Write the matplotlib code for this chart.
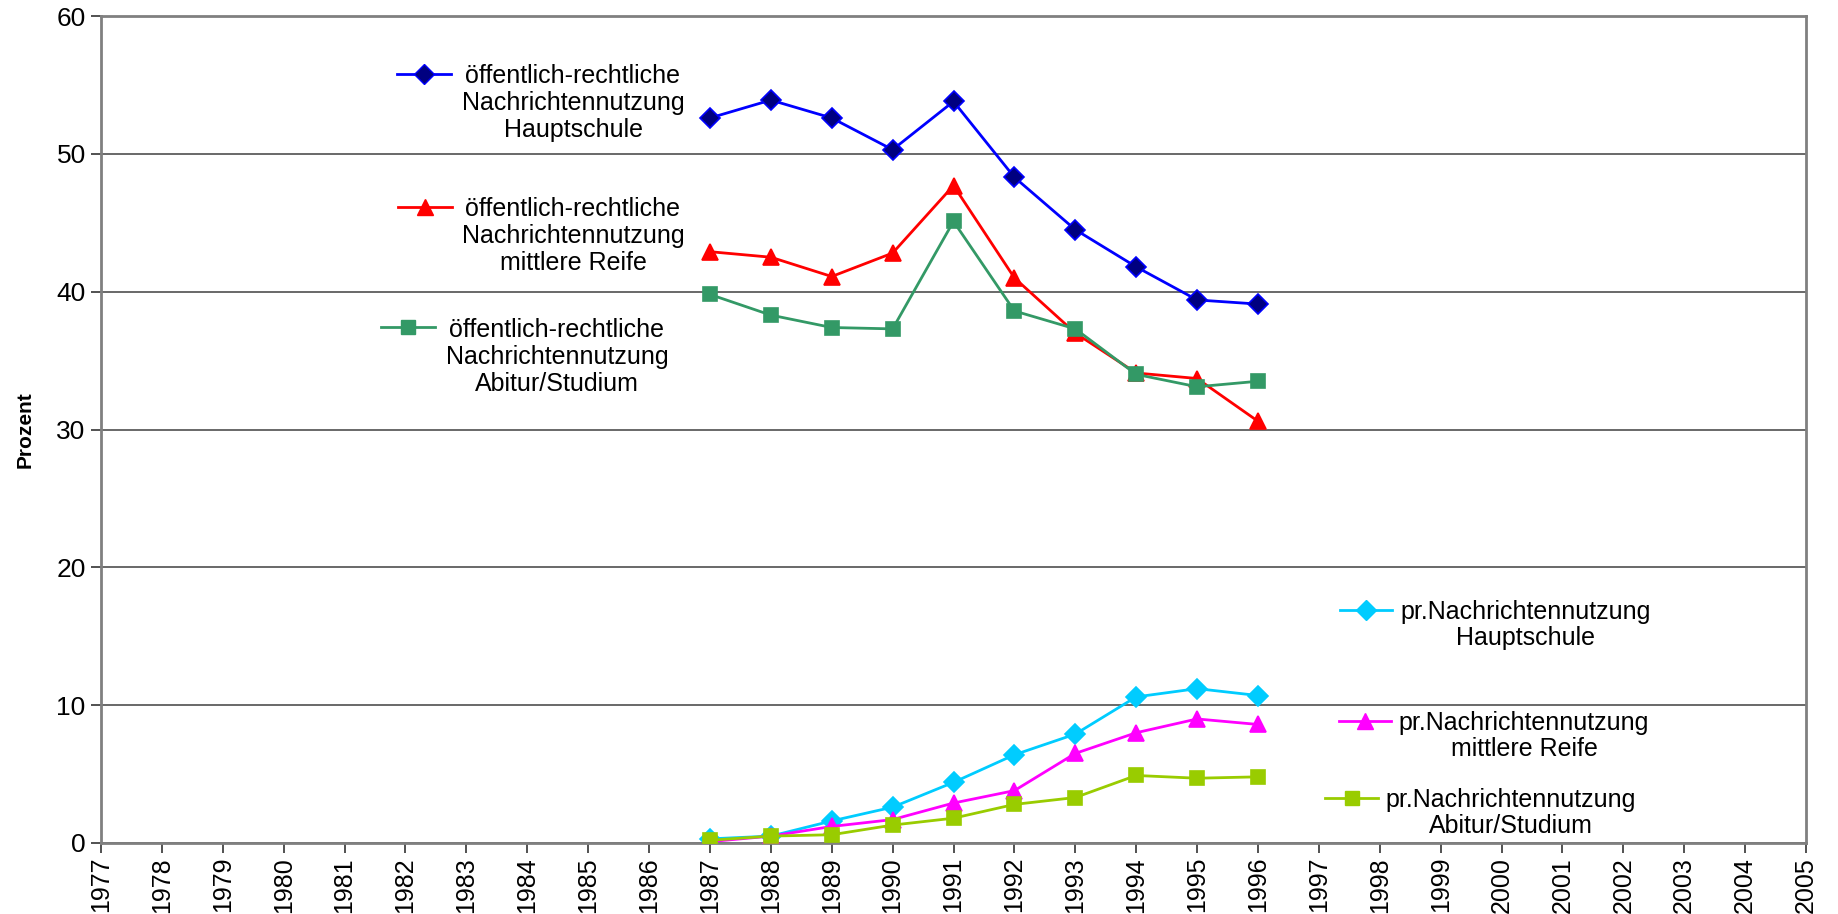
import matplotlib
matplotlib.use("Agg")
import matplotlib.pyplot as plt
from matplotlib.lines import Line2D

plt.rcParams['font.family'] = ['Liberation Sans', 'DejaVu Sans']

years = list(range(1987, 1997))
year_ticks = list(range(1977, 2006))

oer_hauptschule = [52.6, 53.9, 52.6, 50.3, 53.8, 48.3, 44.5, 41.8, 39.4, 39.1]
oer_mittlere    = [42.9, 42.5, 41.1, 42.8, 47.7, 41.0, 37.0, 34.1, 33.7, 30.6]
oer_abitur      = [39.8, 38.3, 37.4, 37.3, 45.1, 38.6, 37.3, 34.0, 33.1, 33.5]
pr_hauptschule  = [0.3, 0.5, 1.6, 2.6, 4.4, 6.4, 7.9, 10.6, 11.2, 10.7]
pr_mittlere     = [0.1, 0.5, 1.2, 1.7, 2.9, 3.8, 6.5, 8.0, 9.0, 8.6]
pr_abitur       = [0.2, 0.5, 0.6, 1.3, 1.8, 2.8, 3.3, 4.9, 4.7, 4.8]

labels = [
    "öffentlich-rechtliche\nNachrichtennutzung\nHauptschule",
    "öffentlich-rechtliche\nNachrichtennutzung\nmittlere Reife",
    "öffentlich-rechtliche\nNachrichtennutzung\nAbitur/Studium",
    "pr.Nachrichtennutzung\nHauptschule",
    "pr.Nachrichtennutzung\nmittlere Reife",
    "pr.Nachrichtennutzung\nAbitur/Studium",
]
series = [oer_hauptschule, oer_mittlere, oer_abitur,
          pr_hauptschule, pr_mittlere, pr_abitur]

# (line colour, marker, face colour, marker size)
styles = [
    ("#0000FF", "D", "#000080", 10.5),
    ("#FF0000", "^", "#FF0000", 11.5),
    ("#339966", "s", "#339966", 9.5),
    ("#00CCFF", "D", "#00CCFF", 10.5),
    ("#FF00FF", "^", "#FF00FF", 11.5),
    ("#99CC00", "s", "#99CC00", 9.5),
]

# legend key positions in figure pixels: handle left, handle right, y, text centre x, text centre y
W, H = 1838, 914
legend_pos = [
    (397, 451, 74, 573, 103),
    (398, 452, 207, 573, 236),
    (381, 435, 327, 557, 357),
    (1340, 1392, 610, 1526, 625),
    (1339, 1391, 721, 1524, 736),
    (1325, 1378, 798, 1511, 813),
]

fig = plt.figure(figsize=(W / 100, H / 100), dpi=100)
ax = fig.add_axes([101 / W, 1 - 843 / H, (1806 - 101) / W, (843 - 16) / H])

for vals, (col, mk, fc, ms) in zip(series, styles):
    ax.plot(years, vals, color=col, lw=2, marker=mk, markersize=ms,
            markerfacecolor=fc, markeredgecolor=col if mk == "D" else fc,
            markeredgewidth=1.2, zorder=3)

ax.set_xlim(1977, 2005)
ax.set_ylim(0, 60)
ax.set_yticks(range(0, 61, 10))
ax.set_xticks(year_ticks)
ax.set_xticklabels([str(y) for y in year_ticks], rotation=90, fontsize=18)
ax.tick_params(axis='y', labelsize=19, length=7, width=1.2, color='#333333', pad=4)
ax.tick_params(axis='x', length=7, width=1.2, color='#333333', pad=3)
ax.yaxis.grid(True, color='#404040', lw=1.1)
ax.set_axisbelow(True)
for sp in ax.spines.values():
    sp.set_color('#808080')
    sp.set_linewidth(2)
ax.set_ylabel("Prozent", fontsize=15, fontweight='bold', labelpad=16)

for (x0, x1, y, tx, ty), (col, mk, fc, ms), lab in zip(legend_pos, styles, labels):
    key = Line2D([x0 / W, x1 / W], [1 - y / H, 1 - y / H], transform=fig.transFigure,
                 color=col, lw=2)
    fig.add_artist(key)
    dot = Line2D([(x0 + x1) / 2 / W], [1 - y / H], transform=fig.transFigure,
                 color=col, marker=mk, markersize=ms, markerfacecolor=fc,
                 markeredgecolor=col if mk == "D" else fc, lw=0)
    fig.add_artist(dot)
    fig.text(tx / W, 1 - ty / H, lab, ha='center', va='center',
             multialignment='center', fontsize=18, linespacing=1.15)

fig.savefig("out.png", dpi=100)
